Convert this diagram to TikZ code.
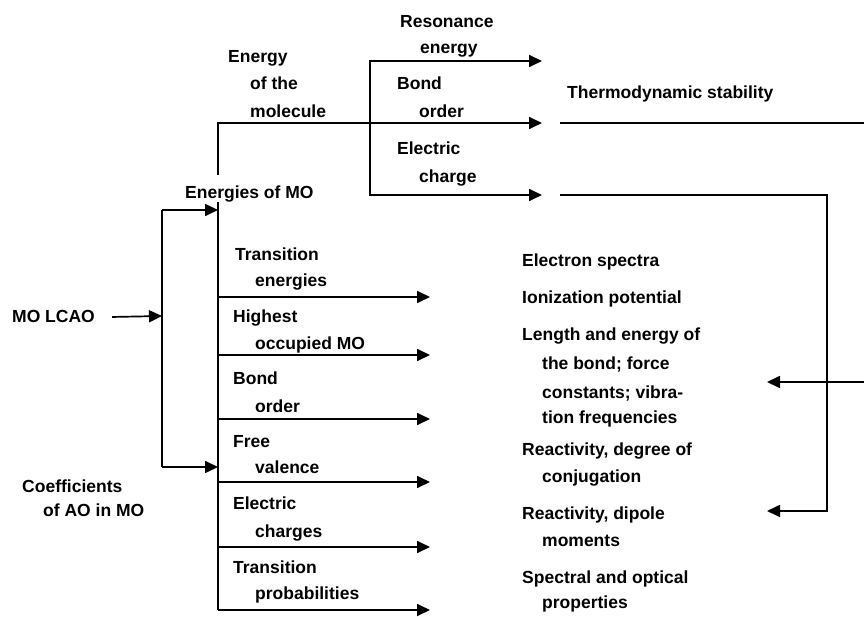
\documentclass[tikz,border=0pt]{standalone}
\usepackage{fontspec}
\setmainfont{Liberation Sans}
\usetikzlibrary{arrows.meta}
\tikzset{
    lbl/.style={anchor=base west, inner sep=0pt, font=\fontsize{17.5}{21}\selectfont\bfseries},
    flow/.style={line width=1.7pt},
    arr/.style={flow, -{Triangle[length=13pt, width=12pt]}}
}

\begin{document}
\begin{tikzpicture}[x=1pt, y=-1pt]
    \useasboundingbox (0,0) rectangle (864,617);

    % starting points
    \node[lbl] (mo) at (12,323) {MO LCAO};
    \node[lbl] (coef) at (22,492) {Coefficients};
    \node[lbl] (coef2) at (43,516) {of AO in MO};
    \node[lbl] (emo) at (185,199) {Energies of MO};

    % quantities of the molecule as a whole
    \node[lbl] (mol1) at (228,63) {Energy};
    \node[lbl] (mol2) at (250,90) {of the};
    \node[lbl] (mol3) at (250,118) {molecule};
    \node[lbl] (res1) at (400,28) {Resonance};
    \node[lbl] (res2) at (420,54) {energy};
    \node[lbl] (bo1) at (397,90) {Bond};
    \node[lbl] (bo2) at (419,118) {order};
    \node[lbl] (ch1) at (397,155) {Electric};
    \node[lbl] (ch2) at (419,183) {charge};
    \node[lbl] (thermo) at (567,99) {Thermodynamic stability};

    % quantities taken from the MO
    \node[lbl] (q1a) at (235,261) {Transition};
    \node[lbl] (q1b) at (255,287) {energies};
    \node[lbl] (q2a) at (233,323) {Highest};
    \node[lbl] (q2b) at (255,349) {occupied MO};
    \node[lbl] (q3a) at (233,384) {Bond};
    \node[lbl] (q3b) at (255,412) {order};
    \node[lbl] (q4a) at (233,447) {Free};
    \node[lbl] (q4b) at (255,473) {valence};
    \node[lbl] (q5a) at (233,509) {Electric};
    \node[lbl] (q5b) at (255,537) {charges};
    \node[lbl] (q6a) at (233,573) {Transition};
    \node[lbl] (q6b) at (255,599) {probabilities};

    % observables
    \node[lbl] (o1) at (522,267) {Electron spectra};
    \node[lbl] (o2) at (522,304) {Ionization potential};
    \node[lbl] (o3a) at (522,341) {Length and energy of};
    \node[lbl] (o3b) at (542,369) {the bond; force};
    \node[lbl] (o3c) at (542,398) {constants; vibra-};
    \node[lbl] (o3d) at (542,423) {tion frequencies};
    \node[lbl] (o4a) at (522,455) {Reactivity, degree of};
    \node[lbl] (o4b) at (542,482) {conjugation};
    \node[lbl] (o5a) at (522,519) {Reactivity, dipole};
    \node[lbl] (o5b) at (542,546) {moments};
    \node[lbl] (o6a) at (522,583) {Spectral and optical};
    \node[lbl] (o6b) at (542,608) {properties};

    % branch points
    \coordinate (split) at (162,316);
    \coordinate (brtop) at (162,210);
    \coordinate (brbot) at (162,467);
    \coordinate (trtop) at (218,202);
    \coordinate (trbot) at (218,610);
    \coordinate (etop) at (218,175);
    \coordinate (fork) at (370,123);
    \coordinate (sres) at (542,61);
    \coordinate (sbond) at (542,123);
    \coordinate (schg) at (542,195);
    \coordinate (thr0) at (560,123);
    \coordinate (thr1) at (864,123);
    \coordinate (chg0) at (560,195);
    \coordinate (chgdn) at (827,511);
    \coordinate (tip1) at (767,382);
    \coordinate (tip2) at (767,511);
    \coordinate (rin) at (864,382);

    % MO LCAO splits into energies and coefficients
    \draw[arr] ([xshift=17pt]mo.east) -- (split);
    \draw[flow] (brtop) -- (brbot);
    \draw[arr] (brtop) -- (brtop -| trtop);
    \draw[arr] (brbot) -- (brbot -| trtop);
    \draw[flow] (trtop) -- (trbot);

    % energy of the molecule
    \draw[arr] (etop) |- (sbond);
    \draw[arr] (fork) |- (sres);
    \draw[arr] (fork) |- (schg);

    % one arrow per MO quantity
    \foreach \y/\n in {297/a, 355/b, 419/c, 482/d, 547/e, 610/f} {
        \coordinate (t\n) at (430,\y);
        \draw[arr] (trtop |- t\n) -- (t\n);
    }

    % feedback on the right
    \draw[flow] (thr0) -- (thr1);
    \draw[arr] (chg0) -| (chgdn) -- (tip2);
    \draw[arr] (rin) -- (tip1);
\end{tikzpicture}
\end{document}
